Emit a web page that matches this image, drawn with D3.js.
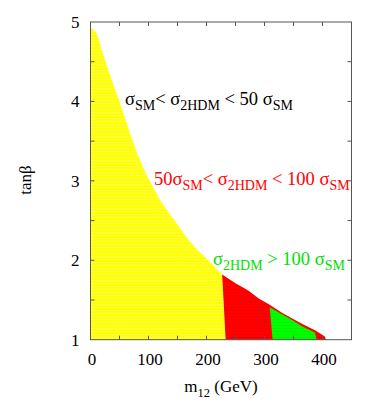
<!DOCTYPE html>
<html>
<head>
<meta charset="utf-8">
<script src="https://cdn.jsdelivr.net/npm/d3@7"></script>
<style>
    body { margin: 0; background: #fff; }
    svg text { font-family: "Liberation Serif", "DejaVu Serif", serif; }
</style>
</head>
<body>
<svg id="chart" width="382" height="415"></svg>
<script>
// yellow region: upper boundary (m12 in GeV, tan beta)
var yellowM12 = [0, 10, 21, 33, 50, 73, 86, 102, 121, 145, 170, 203, 227];
var yellowTanb = [4.92, 4.86, 4.61, 4.35, 4.0, 3.5, 3.25, 3.0, 2.75, 2.5, 2.25, 2.0, 1.82];
var yellowBottomEnd = 233;

// red region: upper envelope
var redM12 = [227, 250, 272, 290, 309, 328, 347, 367, 387, 398, 404, 406];
var redTanb = [1.82, 1.71, 1.62, 1.52, 1.44, 1.35, 1.27, 1.19, 1.12, 1.07, 1.04, 1.0];

// green region: upper envelope
var greenM12 = [309, 328, 347, 367, 387, 390];
var greenTanb = [1.41, 1.33, 1.25, 1.16, 1.09, 1.0];
var greenBottomStart = 314;

var xTicks = [0, 100, 200, 300, 400];
var yTicks = [1, 2, 3, 4, 5];

var margin = { top: 22, right: 30.5, bottom: 75.3, left: 90.5 };
var width = 382, height = 415;

var svg = d3.select('#chart');

var x = d3.scaleLinear().domain([0, 450]).range([margin.left, width - margin.right]);
var y = d3.scaleLinear().domain([1, 5]).range([height - margin.bottom, margin.top]);

// textured fills
var defs = svg.append('defs');
var makePattern = function (id, base, stripe, op) {
    var p = defs.append('pattern')
        .attr('id', id)
        .attr('patternUnits', 'userSpaceOnUse')
        .attr('width', 3)
        .attr('height', 3);
    p.append('rect').attr('width', 3).attr('height', 3).attr('fill', base);
    p.append('rect').attr('y', 1).attr('width', 3).attr('height', 1)
        .attr('fill', stripe).attr('opacity', op);
    p.append('rect').attr('x', 1).attr('y', 2).attr('width', 1).attr('height', 1)
        .attr('fill', stripe).attr('opacity', op * 0.5);
}
makePattern('pYellow', '#ffff00', '#ffffa8', 0.4);
makePattern('pRed', '#ff0000', '#ee0000', 0.4);
makePattern('pGreen', '#00ff00', '#00e400', 0.4);

var line = d3.line()
    .x(function (d) { return x(d[0]); })
    .y(function (d) { return y(d[1]); });

var smooth = d3.line()
    .x(function (d) { return x(d[0]); })
    .y(function (d) { return y(d[1]); })
    .curve(d3.curveMonotoneX);

var zip = function (a, b) {
    return a.map(function (v, i) { return [v, b[i]]; });
}

// yellow
svg.append('path')
    .attr('d', smooth(zip(yellowM12, yellowTanb))
        + 'L' + x(yellowBottomEnd) + ',' + y(1)
        + 'L' + x(0) + ',' + y(1) + 'Z')
    .attr('fill', 'url(#pYellow)');

// red
var redPts = zip(redM12, redTanb).concat([[yellowBottomEnd, 1]]);
svg.append('path')
    .attr('d', line(redPts) + 'Z')
    .attr('fill', 'url(#pRed)');

// green
var greenPts = zip(greenM12, greenTanb).concat([[greenBottomStart, 1]]);
svg.append('path')
    .attr('d', line(greenPts) + 'Z')
    .attr('fill', 'url(#pGreen)');

// frame and ticks
var axisColor = '#555';
var tickLen = 4;
var x0 = x(0), x1 = x(450), y0 = y(1), y1 = y(5);

svg.append('rect')
    .attr('x', x0).attr('y', y1)
    .attr('width', x1 - x0).attr('height', y0 - y1)
    .attr('fill', 'none')
    .attr('stroke', axisColor)
    .attr('stroke-width', 1);

var xMinor = d3.range(50, 450, 50);
var yMinor = d3.range(1.5, 5, 0.5);
var tg = svg.append('g').attr('stroke', axisColor).attr('stroke-width', 1);
xMinor.forEach(function (v) {
    tg.append('line').attr('x1', x(v)).attr('x2', x(v)).attr('y1', y0).attr('y2', y0 - tickLen);
    tg.append('line').attr('x1', x(v)).attr('x2', x(v)).attr('y1', y1).attr('y2', y1 + tickLen);
});
yMinor.forEach(function (v) {
    tg.append('line').attr('x1', x0).attr('x2', x0 + tickLen).attr('y1', y(v)).attr('y2', y(v));
    tg.append('line').attr('x1', x1).attr('x2', x1 - tickLen).attr('y1', y(v)).attr('y2', y(v));
});

// tick labels
svg.selectAll('.xlab').data(xTicks).enter().append('text')
    .attr('x', function (d) { return x(d) + 1.5; })
    .attr('y', y0 + 25)
    .attr('text-anchor', 'middle')
    .attr('font-size', 17)
    .text(function (d) { return d; });

svg.selectAll('.ylab').data(yTicks).enter().append('text')
    .attr('x', x0 - 11)
    .attr('y', function (d) { return y(d) + 6; })
    .attr('text-anchor', 'end')
    .attr('font-size', 17)
    .text(function (d) { return d; });

// axis titles
var xt = svg.append('text')
    .attr('x', 221).attr('y', 392)
    .attr('text-anchor', 'middle')
    .attr('font-size', 17);
xt.append('tspan').text('m');
xt.append('tspan').attr('dy', 5).attr('font-size', 12.5).text('12');
xt.append('tspan').attr('dy', -5).text(' (GeV)');

svg.append('text')
    .attr('transform', 'translate(31,180) rotate(-90)')
    .attr('text-anchor', 'middle')
    .attr('font-size', 17)
    .text('tanβ');

// annotations: parts are [text, isSub]
var annotate = function (parts, px, py, color) {
    var t = svg.append('text')
        .attr('x', px).attr('y', py)
        .attr('font-size', 18.5)
        .attr('fill', color);
    var sub = false;
    parts.forEach(function (p) {
        var s = t.append('tspan').text(p[0]);
        if (p[1] && !sub) { s.attr('dy', 5).attr('font-size', 14); sub = true; }
        else if (p[1]) { s.attr('font-size', 14); }
        else if (sub) { s.attr('dy', -5); sub = false; }
    });
}

annotate([['σ'], ['SM', 1], ['< σ'], ['2HDM', 1], [' < 50 σ'], ['SM', 1]], 125, 105, '#000');
annotate([['50σ'], ['SM', 1], ['< σ'], ['2HDM', 1], [' < 100 σ'], ['SM', 1]], 154, 185, '#ff0000');
annotate([['σ'], ['2HDM', 1], [' > 100 σ'], ['SM', 1]], 213, 265, '#00e000');
</script>
</body>
</html>
